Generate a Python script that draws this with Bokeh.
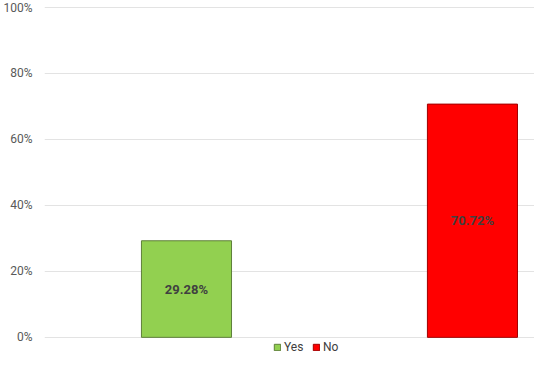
from bokeh.plotting import figure
from bokeh.models import Range1d, ColumnDataSource, NumeralTickFormatter, Legend, LegendItem, FixedTicker
from bokeh.core.properties import value
from bokeh.embed import file_html
from bokeh.resources import INLINE

categories = ["Yes", "No"]
shares = [0.2928, 0.7072]
fill_colors = ["#92D050", "#FF0000"]
edge_colors = ["#5E7F3A", "#A00000"]
y_ticks = [0, 0.2, 0.4, 0.6, 0.8, 1.0]

xs = [i + 0.5 for i in range(len(categories))]
src = ColumnDataSource(dict(
    x=xs, top=shares, mid=[s / 2 for s in shares],
    label=["{:.2f}%".format(s * 100) for s in shares],
))

p = figure(width=534, height=354, output_backend="svg", toolbar_location=None,
           x_axis_location=None,
           x_range=Range1d(0.0035, 1.717), y_range=Range1d(-0.052, 1.0213),
           min_border_left=0, min_border_right=0, min_border_top=0, min_border_bottom=0)
p.outline_line_color = None
p.background_fill_color = "white"

bars = []
for i, c in enumerate(categories):
    view_src = ColumnDataSource(dict(x=[xs[i]], top=[shares[i]]))
    r = p.vbar(x="x", top="top", width=0.315, source=view_src,
               fill_color=fill_colors[i], line_color=edge_colors[i], line_width=1)
    bars.append(r)

p.text(x="x", y="mid", text="label", source=src, text_align="center", text_baseline="middle",
       text_font=value("Roboto"), text_font_size="13px", text_font_style="bold", text_color="#404040")

p.xgrid.visible = False
p.yaxis.ticker = FixedTicker(ticks=y_ticks)
p.yaxis.formatter = NumeralTickFormatter(format="0%")
p.yaxis.axis_line_color = None
p.yaxis.major_tick_line_color = None
p.yaxis.minor_tick_line_color = None
p.yaxis.major_label_text_font = "Roboto"
p.yaxis.major_label_text_font_size = "12px"
p.yaxis.major_label_text_color = "#595959"
p.yaxis.major_label_standoff = 6
p.ygrid.ticker = FixedTicker(ticks=y_ticks)
p.ygrid.grid_line_color = "#E3E3E3"
p.ygrid.grid_line_width = 1

legend = Legend(items=[LegendItem(label=c, renderers=[bars[i]]) for i, c in enumerate(categories)],
                orientation="horizontal", location=(229, 0),
                label_text_font="Roboto", label_text_font_size="12px", label_text_color="#404040",
                glyph_width=8, glyph_height=8, label_standoff=3, spacing=8, label_height=13,
                padding=0, margin=0, border_line_color=None, background_fill_alpha=0)
p.add_layout(legend)

open("out.html", "w").write(file_html(p, INLINE))
